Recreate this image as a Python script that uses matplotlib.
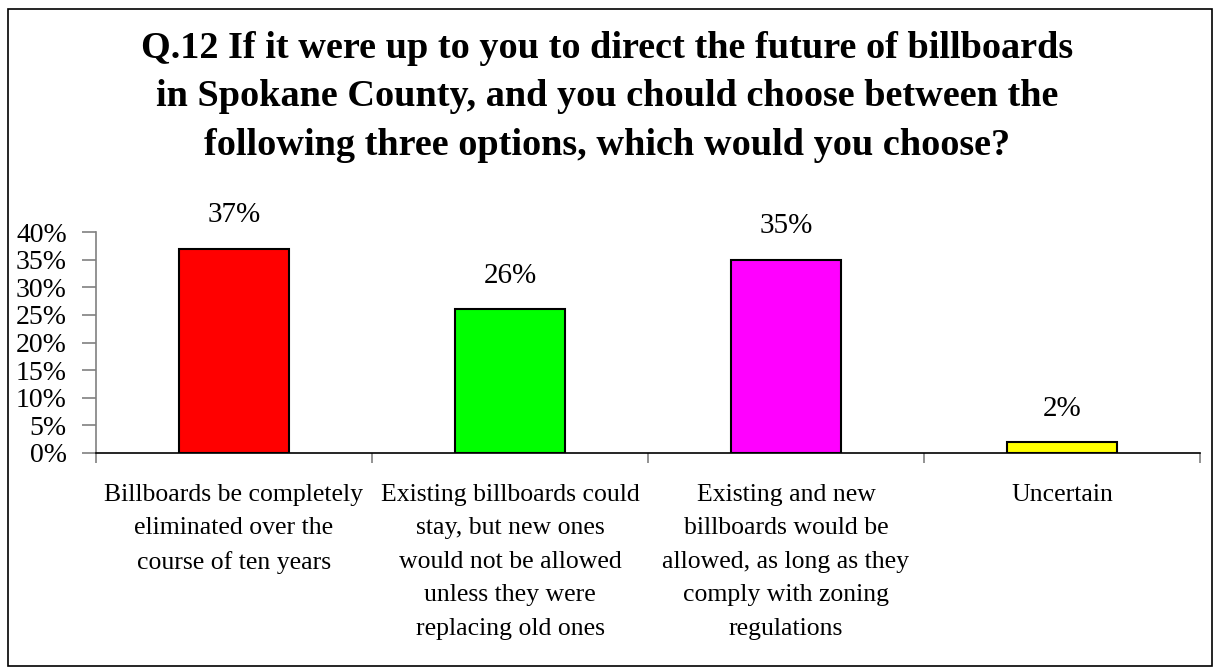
import matplotlib.pyplot as plt
from matplotlib.patches import Rectangle

# =========================
# DATA
# =========================
categories = [
    "Billboards be completely\neliminated over the\ncourse of ten years",
    "Existing billboards could\nstay, but new ones\nwould not be allowed\nunless they were\nreplacing old ones",
    "Existing and new\nbillboards would be\nallowed, as long as they\ncomply with zoning\nregulations",
    "Uncertain",
]
percents = [37, 26, 35, 2]
colors = ["#ff0000", "#00ff00", "#ff00ff", "#ffff00"]
y_ticks = [0, 5, 10, 15, 20, 25, 30, 35, 40]

title = ("Q.12 If it were up to you to direct the future of billboards\n"
         "in Spokane County, and you chould choose between the\n"
         "following three options, which would you choose?")

plt.rcParams['font.family'] = ['Liberation Serif', 'DejaVu Serif']

# =========================
# FIGURE
# =========================
fig = plt.figure(figsize=(12.14, 6.67), dpi=100)
ax = fig.add_axes([96 / 1214, 1 - 453 / 667, (1200 - 96) / 1214, (453 - 232) / 667])

x = list(range(len(percents)))
ax.bar(x, percents, width=0.4, color=colors, edgecolor="black", linewidth=1.5, zorder=3)

for xi, v in zip(x, percents):
    ax.annotate(f"{v}%", (xi, v), xytext=(0, 24), textcoords="offset points",
                ha="center", va="center", fontsize=21)

ax.set_xlim(-0.5, len(percents) - 0.5)
ax.set_ylim(0, 40)
ax.set_yticks(y_ticks)
ax.set_yticklabels([f"{t}%" for t in y_ticks], fontsize=20)

# category labels centred, ticks at the boundaries between categories
ax.set_xticks(x)
ax.set_xticklabels(categories, fontsize=18.5, linespacing=1.68, va="top")
ax.tick_params(axis="x", length=0, pad=22)
ax.set_xticks([i - 0.5 for i in range(len(percents) + 1)], minor=True)
ax.tick_params(axis="x", which="minor", length=7, width=1.2, color="#808080", direction="out")
ax.tick_params(axis="y", length=10, width=1.2, color="#808080", direction="out", pad=11)

for side in ["top", "right"]:
    ax.spines[side].set_visible(False)
ax.spines["left"].set_color("#808080")
ax.spines["left"].set_linewidth(1.2)
ax.spines["bottom"].set_color("black")
ax.spines["bottom"].set_linewidth(1.2)
ax.spines["bottom"].set_zorder(4)

fig.text(0.5, 1 - 97 / 667, title, ha="center", va="center",
         fontsize=27.5, fontweight="bold", linespacing=1.49)

# outer frame
fig.patches.append(Rectangle((8 / 1214, 1 / 667), 1204 / 1214, 657 / 667,
                             transform=fig.transFigure, fill=False,
                             edgecolor="black", linewidth=1.2))

fig.savefig("out.png", dpi=100)
